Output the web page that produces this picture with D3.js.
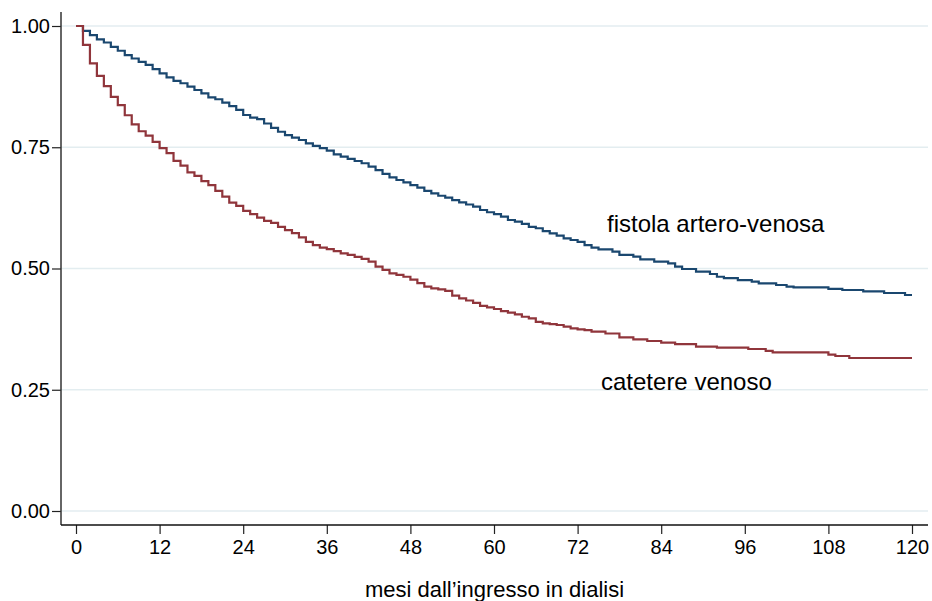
<!DOCTYPE html>
<html lang="it">
  <head>
    <meta charset="utf-8">
    <title>Sopravvivenza per accesso vascolare</title>
    <style>
      body { margin: 0; background: #fff; }
      svg text { font-family: "Liberation Sans", Arial, sans-serif; fill: #000; }
    </style>
  </head>
  <body>
    <svg class="chart"></svg>
    <script src="https://d3js.org/d3.v7.min.js"></script>
    <script>
      // mesi (step times) and survival
      const avfMonths = [0, 1, 2, 3, 4, 5, 6, 7, 8, 9, 10, 11, 12, 13, 14, 15, 16, 17, 18, 19, 20,
        21, 22, 23, 24, 25, 26, 27, 28, 29, 30, 31, 32, 33, 34, 35, 36, 37, 38, 39, 40,
        41, 42, 43, 44, 45, 46, 47, 48, 49, 50, 51, 52, 53, 54, 55, 56, 57, 58, 59, 60,
        61, 62, 63, 64, 65, 66, 67, 68, 69, 70, 71, 72, 73, 74, 75, 77, 78, 80, 81, 83,
        85, 86, 87, 89, 91, 92, 93, 95, 97, 98, 100.5, 102, 103, 108, 110, 113, 116, 119, 120];
      const avfSurv = [1.0, 0.990, 0.981, 0.9725, 0.966, 0.957, 0.949, 0.940, 0.933, 0.926, 0.920,
        0.911, 0.9025, 0.894, 0.887, 0.882, 0.875, 0.868, 0.861, 0.853, 0.849,
        0.842, 0.835, 0.827, 0.8165, 0.811, 0.808, 0.799, 0.790, 0.782, 0.775,
        0.770, 0.765, 0.758, 0.753, 0.748, 0.743, 0.7355, 0.7305, 0.726, 0.7216,
        0.717, 0.710, 0.703, 0.695, 0.688, 0.6825, 0.6777, 0.672, 0.6666, 0.660,
        0.655, 0.650, 0.646, 0.641, 0.6365, 0.632, 0.6275, 0.6206, 0.616, 0.612,
        0.607, 0.600, 0.5965, 0.592, 0.586, 0.583, 0.577, 0.5725, 0.5676, 0.562,
        0.5588, 0.555, 0.548, 0.543, 0.5396, 0.5347, 0.528, 0.5244, 0.519, 0.514,
        0.5107, 0.504, 0.499, 0.4934, 0.4887, 0.483, 0.480, 0.476, 0.473, 0.4695,
        0.466, 0.4625, 0.461, 0.458, 0.4557, 0.453, 0.4495, 0.4454, 0.4454];

      const cvcMonths = [0, 1, 2, 3, 4, 5, 6, 7, 8, 9, 10, 11, 12, 13, 14, 15, 16, 17, 18, 19, 20,
        21, 22, 23, 24, 25, 26, 27, 28, 29, 30, 31, 32, 33, 34, 35, 36, 37, 38, 39, 40,
        41, 42, 43, 44, 45, 46, 47, 48, 49, 50, 51, 52, 53, 54, 55, 56, 57, 58, 59, 60,
        61, 62, 63, 64, 65, 66, 67, 68, 69, 70, 71, 72, 73, 74, 76, 78, 80, 82, 84, 86,
        89, 92, 96.5, 99, 100, 108, 109, 111, 120];
      const cvcSurv = [1.0, 0.961, 0.923, 0.897, 0.876, 0.854, 0.837, 0.816, 0.797, 0.783, 0.774,
        0.761, 0.748, 0.738, 0.722, 0.712, 0.698, 0.691, 0.680, 0.672, 0.660,
        0.648, 0.636, 0.629, 0.619, 0.612, 0.605, 0.598, 0.594, 0.586, 0.579,
        0.573, 0.564, 0.555, 0.548, 0.543, 0.540, 0.536, 0.531, 0.528, 0.524,
        0.520, 0.514, 0.504, 0.497, 0.490, 0.487, 0.483, 0.477, 0.470, 0.4625,
        0.459, 0.457, 0.454, 0.444, 0.4385, 0.434, 0.429, 0.423, 0.420, 0.4165,
        0.412, 0.409, 0.4055, 0.4005, 0.397, 0.390, 0.387, 0.3855, 0.3835, 0.380,
        0.3765, 0.3745, 0.373, 0.370, 0.366, 0.358, 0.354, 0.3505, 0.347, 0.344,
        0.339, 0.3367, 0.334, 0.330, 0.327, 0.3223, 0.3196, 0.3155, 0.3155];

      const xTicks = [0, 12, 24, 36, 48, 60, 72, 84, 96, 108, 120];
      const yTicks = [0, 0.25, 0.5, 0.75, 1];
      const seriesNames = ["fistola artero-venosa", "catetere venoso"];
      const xTitle = "mesi dall\u2019ingresso in dialisi";

      const width = 932, height = 601;
      const plotLeft = 61, plotRight = 928, plotTop = 12, plotBottom = 525;

      const svg = d3.select(".chart")
        .attr("width", width)
        .attr("height", height);

      const x = d3.scaleLinear().domain([0, 120]).range([76, 912]);
      const y = d3.scaleLinear().domain([0, 1]).range([511, 26]);

      // grid
      svg.append("g").attr("class", "grid")
        .selectAll("line")
        .data(yTicks)
        .enter()
        .append("line")
        .attr("x1", plotLeft).attr("x2", plotRight)
        .attr("y1", d => y(d)).attr("y2", d => y(d))
        .attr("stroke", "#e3edf0")
        .attr("stroke-width", 1.5);

      // axes
      const yAxis = d3.axisLeft(y).tickValues(yTicks).tickFormat(d3.format(".2f"))
        .tickSize(9).tickPadding(2);
      const gy = svg.append("g")
        .attr("transform", "translate(" + plotLeft + ",0)")
        .call(yAxis);
      gy.select(".domain").remove();

      const xAxis = d3.axisBottom(x).tickValues(xTicks).tickSize(9).tickPadding(6);
      const gx = svg.append("g")
        .attr("transform", "translate(0," + plotBottom + ")")
        .call(xAxis);
      gx.select(".domain").remove();

      [gx, gy].forEach(function(g) {
        g.selectAll(".tick line").attr("stroke", "#222").attr("stroke-width", 1.2);
        g.selectAll(".tick text").attr("font-size", 20)
          .attr("font-family", "Liberation Sans, Arial, sans-serif").attr("fill", "#000");
      });

      svg.append("line")
        .attr("x1", plotLeft).attr("x2", plotLeft)
        .attr("y1", plotTop).attr("y2", plotBottom)
        .attr("stroke", "#333").attr("stroke-width", 1.5);
      svg.append("line")
        .attr("x1", plotLeft).attr("x2", plotRight)
        .attr("y1", plotBottom).attr("y2", plotBottom)
        .attr("stroke", "#111").attr("stroke-width", 1.5);

      // curves
      const line = d3.line()
        .x(d => x(d[0]))
        .y(d => y(d[1]))
        .curve(d3.curveStepAfter);

      const avf = avfMonths.map((m, i) => [m, avfSurv[i]]);
      const cvc = cvcMonths.map((m, i) => [m, cvcSurv[i]]);

      svg.append("path").datum(avf)
        .attr("d", line)
        .attr("fill", "none")
        .attr("stroke", "#1a476f")
        .attr("stroke-width", 2.2);

      svg.append("path").datum(cvc)
        .attr("d", line)
        .attr("fill", "none")
        .attr("stroke", "#90353b")
        .attr("stroke-width", 2.2);

      // labels
      svg.append("text")
        .attr("x", 607).attr("y", 232)
        .attr("font-size", 24)
        .text(seriesNames[0]);
      svg.append("text")
        .attr("x", 601).attr("y", 390)
        .attr("font-size", 24)
        .text(seriesNames[1]);

      svg.append("text")
        .attr("x", (plotLeft + plotRight) / 2).attr("y", 597)
        .attr("text-anchor", "middle")
        .attr("font-size", 22)
        .text(xTitle);
    </script>
  </body>
</html>
